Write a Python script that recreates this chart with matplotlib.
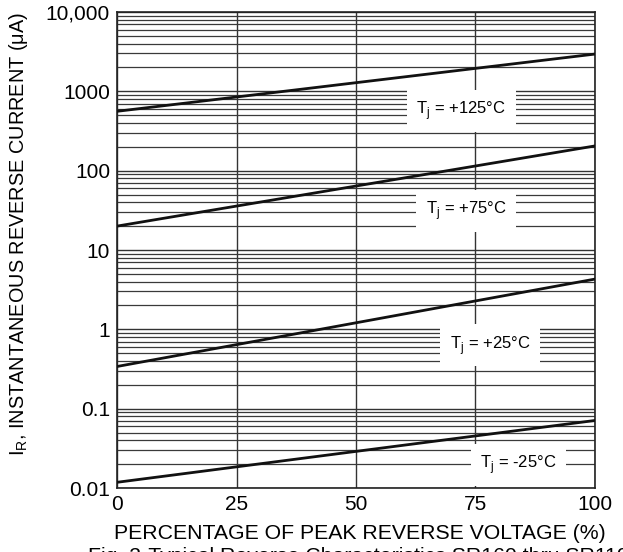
import numpy as np
import matplotlib
matplotlib.use("Agg")
import matplotlib.pyplot as plt
from matplotlib.ticker import FixedLocator, LogLocator, NullFormatter

plt.rcParams['font.family'] = ['Liberation Sans', 'DejaVu Sans']

# percentage of peak reverse voltage
pct = [0, 100]
# instantaneous reverse current (uA) per junction temperature
ir_125 = [560, 2950]
ir_75 = [20, 205]
ir_25 = [0.34, 4.3]
ir_m25 = [0.0118, 0.071]

labels = ["T$_\\mathregular{j}$ = +125°C", "T$_\\mathregular{j}$ = +75°C",
          "T$_\\mathregular{j}$ = +25°C", "T$_\\mathregular{j}$ = -25°C"]
label_x = [72, 73, 78, 84]
label_y = [570, 31, 0.63, 0.0195]

yticks = [0.01, 0.1, 1, 10, 100, 1000, 10000]
ytick_labels = ["0.01", "0.1", "1", "10", "100", "1000", "10,000"]
xticks = [0, 25, 50, 75, 100]

fig = plt.figure(figsize=(6.23, 5.52), dpi=100)
ax = fig.add_axes([117 / 623, 1 - 488 / 552, 478 / 623, 476 / 552])

ax.set_yscale("log")
ax.set_xlim(0, 100)
ax.set_ylim(0.01, 10000)

ax.yaxis.set_major_locator(FixedLocator(yticks))
ax.set_yticks(yticks)
ax.set_yticklabels(ytick_labels)
ax.yaxis.set_minor_locator(LogLocator(base=10, subs=np.arange(2, 10)))
ax.yaxis.set_minor_formatter(NullFormatter())
ax.set_xticks(xticks)

ax.grid(True, which="major", axis="both", color="#333333", lw=1.0)
ax.grid(True, which="minor", axis="y", color="#3a3a3a", lw=0.9)
ax.tick_params(which="both", length=0, labelsize=15, pad=5)
for s in ax.spines.values():
    s.set_linewidth(1.2)
    s.set_color("#222222")

for ys in [ir_125, ir_75, ir_25, ir_m25]:
    ax.plot(pct, ys, color="#111111", lw=2.0, zorder=3)

for t, x, y in zip(labels, label_x, label_y):
    ax.text(x, y, t, fontsize=12, ha="center", va="center", zorder=4,
            bbox=dict(facecolor="white", edgecolor="none", pad=7))

ax.set_xlabel("PERCENTAGE OF PEAK REVERSE VOLTAGE (%)", fontsize=15.3, va="top")
ax.xaxis.set_label_coords((360 - 117) / 478, (488 - 524) / 476)
ax.set_ylabel("I$_\\mathregular{R}$, INSTANTANEOUS REVERSE CURRENT ($\\mathregular{\\mu}$A)",
              fontsize=14.3)
ax.yaxis.set_label_coords((30 - 117) / 478, (488 - 234) / 476)

fig.text(88 / 623, 1 - 547 / 552, "Fig. 2-Typical Reverse Characteristics SR160 thru SR1100",
         fontsize=15.3, ha="left", va="top")

fig.savefig("out.png", dpi=100)
